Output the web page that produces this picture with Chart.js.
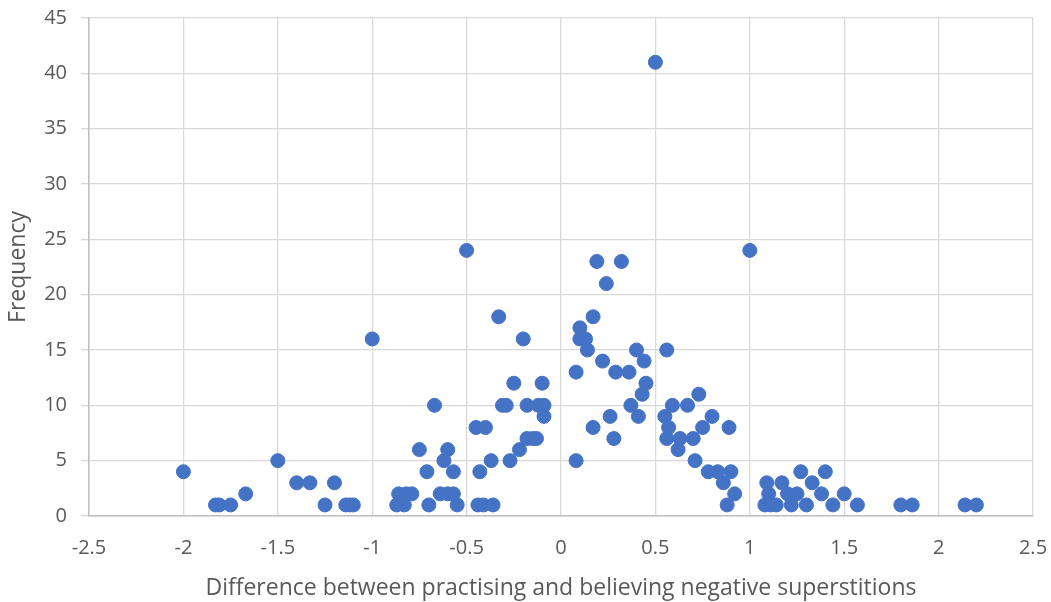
<!DOCTYPE html>
<html>
<head>
<meta charset="utf-8">
<title>Superstitions scatter</title>
<script src="https://cdn.jsdelivr.net/npm/chart.js@4.4.0/dist/chart.umd.min.js"></script>
<style>
  html, body { margin: 0; padding: 0; background: #fff; }
  #wrap { width: 1051px; height: 602px; position: relative; }
</style>
</head>
<body>
<div id="wrap"><canvas id="scatterChart"></canvas></div>
<script>
  // difference (practising - believing) for each respondent group, and how many had it
  const diffValues = [
    -2, -1.83, -1.81, -1.75, -1.67, -1.5, -1.4, -1.33, -1.25, -1.2,
    -1.14, -1.12, -1.1, -1, -0.87, -0.83, -0.86, -0.82, -0.79, -0.75,
    -0.71, -0.7, -0.67, -0.64, -0.6, -0.57, -0.62, -0.6, -0.57, -0.55,
    -0.5, -0.45, -0.4, -0.43, -0.44, -0.41, -0.36, -0.37, -0.33, -0.31,
    -0.29, -0.27, -0.25, -0.22, -0.2, -0.18, -0.18, -0.15, -0.13, -0.12,
    -0.09, -0.1, -0.09,
    0.08, 0.08, 0.1, 0.1, 0.13, 0.14, 0.17, 0.17, 0.19, 0.22,
    0.24, 0.26, 0.28, 0.29, 0.32, 0.36, 0.37, 0.4, 0.41, 0.43,
    0.44, 0.45, 0.5, 0.55, 0.56, 0.56, 0.57, 0.59, 0.62, 0.63,
    0.67, 0.7, 0.71, 0.73, 0.75, 0.78, 0.83, 0.9, 0.8, 0.86,
    0.88, 0.89, 0.92, 1, 1.08, 1.11, 1.14, 1.09, 1.1, 1.17,
    1.2, 1.25, 1.22, 1.27, 1.3, 1.33, 1.38, 1.4, 1.44, 1.5,
    1.57, 1.8, 1.86, 2.14, 2.2
  ];
  const frequencies = [
    4, 1, 1, 1, 2, 5, 3, 3, 1, 3,
    1, 1, 1, 16, 1, 1, 2, 2, 2, 6,
    4, 1, 10, 2, 2, 2, 5, 6, 4, 1,
    24, 8, 8, 4, 1, 1, 1, 5, 18, 10,
    10, 5, 12, 6, 16, 10, 7, 7, 7, 10,
    10, 12, 9,
    5, 13, 17, 16, 16, 15, 18, 8, 23, 14,
    21, 9, 7, 13, 23, 13, 10, 15, 9, 11,
    14, 12, 41, 9, 15, 7, 8, 10, 6, 7,
    10, 7, 5, 11, 8, 4, 4, 4, 9, 3,
    1, 8, 2, 24, 1, 1, 1, 3, 2, 3,
    2, 2, 1, 4, 1, 3, 2, 4, 1, 2,
    1, 1, 1, 1, 1
  ];
  const xTickLabels = ['-2.5', '-2', '-1.5', '-1', '-0.5', '0', '0.5', '1', '1.5', '2', '2.5'];
  const yTickLabels = ['0', '5', '10', '15', '20', '25', '30', '35', '40', '45'];

  const points = diffValues.map((d, i) => ({ x: d, y: frequencies[i] }));

  const tickFont = { family: 'Open Sans', size: 20 };
  const titleFont = { family: 'Open Sans', size: 23 };

  const ctx = document.getElementById('scatterChart').getContext('2d');
  new Chart(ctx, {
    type: 'scatter',
    data: {
      datasets: [{
        label: 'Frequency',
        data: points,
        backgroundColor: '#4472C4',
        borderColor: '#4472C4',
        borderWidth: 1,
        pointRadius: 7,
        pointHoverRadius: 7
      }]
    },
    options: {
      responsive: true,
      maintainAspectRatio: false,
      animation: false,
      layout: { padding: { top: 18, right: 18, left: 0, bottom: 0 } },
      plugins: { legend: { display: false }, tooltip: { enabled: false } },
      scales: {
        x: {
          type: 'linear',
          min: -2.5,
          max: 2.5,
          ticks: {
            stepSize: 0.5,
            color: '#595959',
            font: tickFont,
            padding: 20,
            maxRotation: 0,
            callback: (v, i) => xTickLabels[i]
          },
          grid: { color: '#d9d9d9', lineWidth: 1.3, drawTicks: false },
          border: { color: '#bfbfbf', width: 1.5 },
          title: {
            display: true,
            text: 'Difference between practising and believing negative superstitions',
            color: '#595959',
            font: titleFont,
            padding: { top: 6, bottom: 0 }
          },
          afterFit: s => {
            s.height = 86;
            s.paddingLeft = 0;
            s.paddingRight = 0;
          }
        },
        y: {
          min: 0,
          max: 45,
          ticks: {
            stepSize: 5,
            color: '#595959',
            font: tickFont,
            padding: 14,
            callback: (v, i) => yTickLabels[i]
          },
          grid: { color: '#d9d9d9', lineWidth: 1.3, tickLength: 8 },
          border: { color: '#bfbfbf', width: 1.5 },
          title: {
            display: true,
            text: 'Frequency',
            color: '#595959',
            font: titleFont,
            padding: { top: 5, bottom: 0 }
          },
          afterFit: s => {
            s.width = 89;
            s.paddingTop = 0;
            s.paddingBottom = 0;
          }
        }
      }
    }
  });
</script>
</body>
</html>
